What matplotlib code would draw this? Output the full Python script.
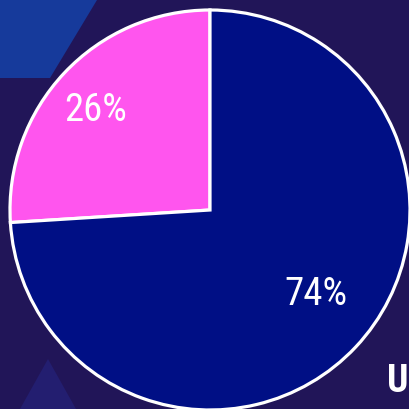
import numpy as np
import matplotlib.pyplot as plt
from matplotlib.patches import Polygon

# datos
labels = ["26%", "74%"]
values = [26, 74]
colors = ["#ff55ee", "#000f85"]

BG = "#211558"

fig = plt.figure(figsize=(4.09, 4.09), dpi=100, facecolor=BG)
ax = fig.add_axes([0, 0, 1, 1])
ax.set_facecolor(BG)

# decoración de fondo
ax.add_patch(Polygon([(0, 409), (97, 409), (50, 331), (0, 331)],
                     closed=True, color="#163a9b", lw=0, zorder=0))
ax.add_patch(Polygon([(20, 0), (48, 50), (76, 0)],
                     closed=True, color="#231e70", lw=0, zorder=0))

cx, cy, r = 210, 199, 200
wedges, _ = ax.pie(values, colors=colors, startangle=90, counterclock=True,
                   center=(cx, cy), radius=r, frame=True,
                   wedgeprops={"edgecolor": "white", "linewidth": 2.3})

# posición de etiquetas: distancia radial + ajuste fino (px)
dist = [0.76, 0.70]
ajuste = [(-4, -5), (4, 11)]
fam = ["Roboto Condensed", "Liberation Sans Narrow", "DejaVu Sans"]
for w, lab, d, (ox, oy) in zip(wedges, labels, dist, ajuste):
    ang = np.deg2rad((w.theta1 + w.theta2) / 2)
    ax.text(cx + d * r * np.cos(ang) + ox, cy + d * r * np.sin(ang) + oy, lab,
            color="white", fontsize=28, ha="center", va="center",
            family=fam, fontstretch="condensed")

ax.text(387, 28, "U", color="white", fontsize=27, fontweight="bold",
        ha="left", va="center", family=fam, fontstretch="condensed")

ax.set_xlim(0, 409)
ax.set_ylim(0, 409)
ax.set_aspect("equal")
ax.axis("off")
fig.savefig("out.png", dpi=100, facecolor=BG)
